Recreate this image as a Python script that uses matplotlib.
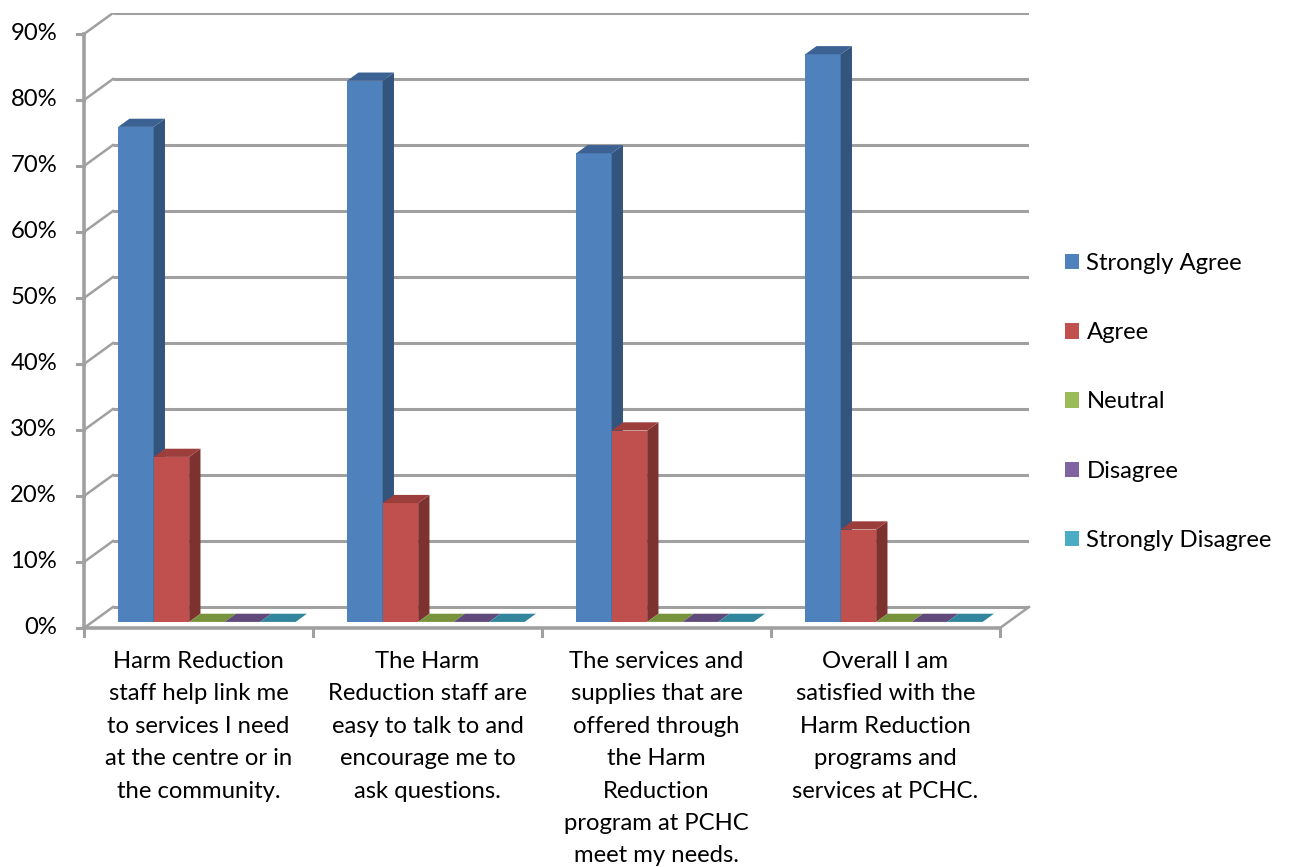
import numpy as np
import matplotlib
matplotlib.use('Agg')
import matplotlib.pyplot as plt
from matplotlib.patches import Polygon, Patch

plt.rcParams['font.family'] = ['Lato', 'DejaVu Sans']

# Datos
categorias = [
    'Harm Reduction\nstaff help link me\nto services I need\nat the centre or in\nthe community.',
    'The Harm\nReduction staff are\neasy to talk to and\nencourage me to\nask questions.',
    'The services and\nsupplies that are\noffered through\nthe Harm\nReduction\nprogram at PCHC\nmeet my needs.',
    'Overall I am\nsatisfied with the\nHarm Reduction\nprograms and\nservices at PCHC.',
]
series = ['Strongly Agree', 'Agree', 'Neutral', 'Disagree', 'Strongly Disagree']
strongly_agree = [75, 82, 71, 86]
agree = [25, 18, 29, 14]
neutral = [0, 0, 0, 0]
disagree = [0, 0, 0, 0]
strongly_disagree = [0, 0, 0, 0]
valores = [strongly_agree, agree, neutral, disagree, strongly_disagree]
yticks = [0, 10, 20, 30, 40, 50, 60, 70, 80, 90]

# Colores: frente, lado, arriba
col_frente = ['#4F81BD', '#C0504D', '#9BBB59', '#8064A2', '#4BACC6']
col_lado = ['#33547D', '#7E3230', '#6B8535', '#5A4678', '#2F7E93']
col_arriba = ['#3C6294', '#9C3E3B', '#77933C', '#604A7C', '#31859C']

fs = 17.2

fig = plt.figure(figsize=(12.89, 8.67), dpi=100)
W, H = 1289, 867
# ejes en pixeles: x 84..1029, y 628 (0%) .. 13
ax = fig.add_axes([84 / W, (H - 628) / H, (1029 - 84) / W, (628 - 13) / H])
px_x = 229.0   # px por categoria
px_y = 6.6     # px por 1%
ax.set_xlim(0, 945 / px_x)
ax.set_ylim(0, 615 / px_y)
ax.axis('off')

# profundidad de la pared del fondo
DX = 29 / px_x
DY = 21 / px_y
f0, f1 = 0.29, 0.68   # plano frontal y trasero de las barras

gris = '#A0A0A0'
n = len(categorias)
# lineas de la cuadricula (pared del fondo y pared izquierda)
for t in yticks:
    ax.plot([DX, 945 / px_x], [t + DY, t + DY], color=gris, lw=2.2, zorder=1,
            solid_capstyle='butt')
    ax.plot([0, DX], [t, t + DY], color=gris, lw=1.8, zorder=1)
# eje vertical y marcas
ax.plot([0, 0], [0, yticks[-1]], color=gris, lw=2.6, zorder=2, clip_on=False)
for t in yticks:
    ax.plot([-7 / px_x, 0], [t, t], color=gris, lw=2.2, zorder=2, clip_on=False)
    ax.text(-27 / px_x, t, f'{t}%', ha='right', va='center', fontsize=fs,
            color='black')
# piso: borde frontal y derecho
ax.plot([0, n], [0, 0], color=gris, lw=2.6, zorder=2, clip_on=False)
ax.plot([n, n + DX], [0, DY], color=gris, lw=1.8, zorder=2, clip_on=False)
for i in range(n + 1):
    ax.plot([i, i], [0, -8 / px_y], color=gris, lw=2.2, zorder=2, clip_on=False)

# barras 3D
ancho = 0.155
margen = (1 - ancho * len(series)) / 2
z = 5
for i in range(n):
    for j in range(len(series)):
        v = valores[j][i]
        x0 = i + margen + j * ancho + f0 * DX
        x1 = x0 + ancho
        y0 = f0 * DY
        y1 = y0 + v
        ddx = (f1 - f0) * DX
        ddy = (f1 - f0) * DY
        if v > 0:
            ax.add_patch(Polygon([[x0, y0], [x1, y0], [x1, y1], [x0, y1]],
                                 closed=True, fc=col_frente[j], ec='none', zorder=z))
            ax.add_patch(Polygon([[x1, y0], [x1 + ddx, y0 + ddy], [x1 + ddx, y1 + ddy], [x1, y1]],
                                 closed=True, fc=col_lado[j], ec='none', zorder=z))
        ax.add_patch(Polygon([[x0, y1], [x1, y1], [x1 + ddx, y1 + ddy], [x0 + ddx, y1 + ddy]],
                             closed=True, fc=col_arriba[j], ec='none', zorder=z))
        z += 1

# etiquetas de categorias
for i, c in enumerate(categorias):
    ax.text(i + 0.5, -23 / px_y, c, ha='center', va='top', fontsize=fs,
            linespacing=1.67, clip_on=False)

# leyenda
handles = [Patch(facecolor=col_frente[j], edgecolor='none') for j in range(len(series))]
fig.legend(handles, series, loc='center left', bbox_to_anchor=(1043 / W, 1 - 402 / H),
           frameon=False, fontsize=fs, handlelength=0.62, handleheight=0.62,
           handletextpad=0.3, labelspacing=2.02)

plt.savefig('out.png', dpi=100)
